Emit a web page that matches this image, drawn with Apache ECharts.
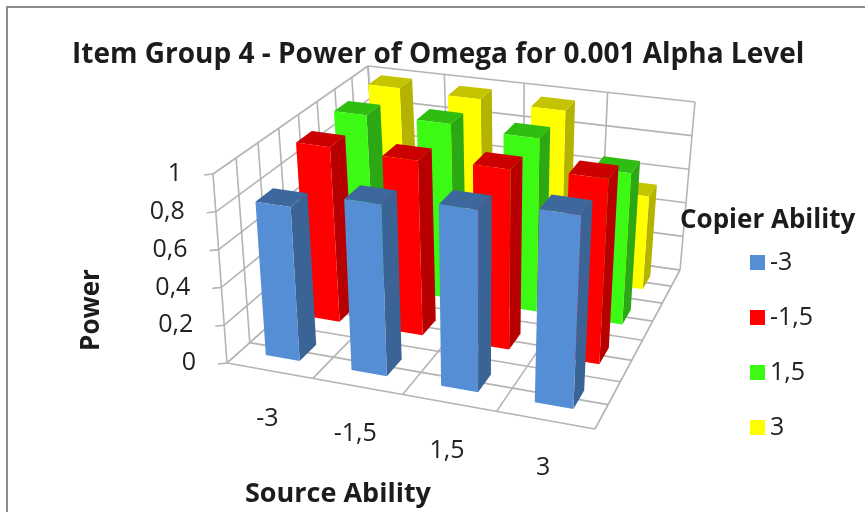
<!DOCTYPE html>
<html><head><meta charset="utf-8">
<style>html,body{margin:0;padding:0;background:#fff}#c{width:865px;height:512px;filter:blur(0.5px)}</style>
<script src="https://cdn.jsdelivr.net/npm/echarts@6/dist/echarts.min.js"></script>
</head><body><div id="c"></div>
<script>
const titleText = 'Item Group 4 - Power of Omega for 0.001 Alpha Level';
const sourceAbility = ['-3', '-1,5', '1,5', '3'];
const copierAbility = ['-3', '-1,5', '1,5', '3'];
const valueTicks = [0, 0.2, 0.4, 0.6, 0.8, 1];
const tickLabels = ['0', '0,2', '0,4', '0,6', '0,8', '1'];
const copierMinus3 = [0.82, 0.905, 0.95, 1.0];
const copierMinus15 = [0.97, 0.96, 0.98, 1.0];
const copierPlus15 = [0.99, 1.0, 0.98, 0.85];
const copierPlus3 = [1.0, 0.99, 0.98, 0.54];
const seriesValues = [copierMinus3, copierMinus15, copierPlus15, copierPlus3];
const faceColors = ['#558ed5', '#ff0000', '#3cfa14', '#ffff00'];
const sideColors = ['#3a6396', '#b80000', '#2ca814', '#b4b400'];
const topColors = ['#3d689e', '#cc0000', '#30bd12', '#c4c400'];

const W = 865, H = 512;
const font = '"Open Sans", sans-serif';
// projection frame of the 3D box: floor and top-plane corners (front-left, front-right, back-right, back-left)
const floorQuad = [[227,363],[595,429],[680,270],[378,228]];
const topQuad = [[213,174],[605,232],[695,102],[368,66]];
function squareToQuad(q){
  const [[x0,y0],[x1,y1],[x2,y2],[x3,y3]] = q;
  const dx1=x1-x2, dx2=x3-x2, dy1=y1-y2, dy2=y3-y2, sx=x0-x1+x2-x3, sy=y0-y1+y2-y3;
  const den=dx1*dy2-dx2*dy1;
  const g=(sx*dy2-dx2*sy)/den, h=(dx1*sy-sx*dy1)/den;
  const a=x1-x0+g*x1, b=x3-x0+h*x3, d=y1-y0+g*y1, e=y3-y0+h*y3;
  return (u,v)=>{const w=g*u+h*v+1;return [(a*u+b*v+x0)/w,(d*u+e*v+y0)/w];};
}
const floorMap = squareToQuad(floorQuad), topMap = squareToQuad(topQuad);
function project(u,v,z){
  const f=floorMap(u,v), t=topMap(u,v);
  return [f[0]+(t[0]-f[0])*z, f[1]+(t[1]-f[1])*z];
}
const gridStroke = {stroke:'#b4b4b4', lineWidth:1.6};
function seg(a,b){return {type:'line',shape:{x1:a[0],y1:a[1],x2:b[0],y2:b[1]},style:gridStroke,silent:true};}
function txt(s,p,align){return {type:'text',x:p[0],y:p[1],silent:true,style:{text:s,fill:'#222',font:'25px '+font,textAlign:align,textVerticalAlign:'middle'}};}

function renderFrame(params, api){
  const kids=[];
  valueTicks.forEach((t,k)=>{
    const z = 1 - api.coord([0,t])[1]/H;
    kids.push(seg(project(0,0,z),project(0,1,z)));
    kids.push(seg(project(0,1,z),project(1,1,z)));
    const e=project(0,0,z);
    kids.push(seg([e[0]-9,e[1]+1],e));
    kids.push(txt(tickLabels[k],[e[0]-31,e[1]],'right'));
  });
  for(let k=0;k<=8;k++){
    const v=k/8;
    kids.push(seg(project(0,v,0),project(0,v,1)));
    kids.push(seg(project(0,v,0),project(1,v,0)));
  }
  for(let k=0;k<=4;k++){
    const u=k/4;
    kids.push(seg(project(u,0,0),project(u,1,0)));
    kids.push(seg(project(u,1,0),project(u,1,1)));
  }
  sourceAbility.forEach((c,i)=>{
    const u=api.coord([i,0])[0]/W, p=project(u,0,0);
    kids.push(txt(c,[p[0]-2,p[1]+48],'center'));
  });
  return {type:'group',children:kids};
}
function makeRenderBar(j){
  return function(params, api){
    const i=api.value(0), val=api.value(1);
    const c=api.coord([i,val]);
    const band=api.size([1,0])[0]/W;
    const u=c[0]/W, z=1-c[1]/H, v=(j+0.5)/copierAbility.length, hu=band*0.2, hv=0.05;
    const fl=project(u-hu,v-hv,0), fr=project(u+hu,v-hv,0), br=project(u+hu,v+hv,0);
    const tfl=project(u-hu,v-hv,z), tfr=project(u+hu,v-hv,z), tbr=project(u+hu,v+hv,z), tbl=project(u-hu,v+hv,z);
    return {type:'group',children:[
      {type:'polygon',shape:{points:[tfr,fr,br,tbr]},style:{fill:sideColors[j]}},
      {type:'polygon',shape:{points:[tfl,tfr,tbr,tbl]},style:{fill:topColors[j]}},
      {type:'polygon',shape:{points:[fl,fr,tfr,tfl]},style:{fill:faceColors[j]}}
    ]};
  };
}
const series = copierAbility.map((name,j)=>({
  type:'custom', name, z:10-j, clip:false,
  coordinateSystem:'cartesian2d',
  itemStyle:{color:faceColors[j]},
  encode:{x:0,y:1},
  data:seriesValues[j].map((val,i)=>[i,val]),
  renderItem:makeRenderBar(j)
}));
series.push({type:'custom',name:'frame',z:1,silent:true,clip:false,coordinateSystem:'cartesian2d',
  encode:{x:0,y:1},data:[[0,0]],renderItem:renderFrame});

const chart = echarts.init(document.getElementById('c'),null,{renderer:'canvas'});
chart.setOption({
  animation:false,
  backgroundColor:'#ffffff',
  grid:{left:0,top:0,width:W,height:H,containLabel:false},
  xAxis:{type:'category',data:sourceAbility,show:false},
  yAxis:{type:'value',min:0,max:1,interval:0.2,show:false},
  title:[
    {text:titleText,left:67,top:36,textStyle:{fontFamily:font,fontWeight:'bold',fontSize:28,color:'#1c1c1c'}},
    {text:'Copier Ability',left:675,top:203,textStyle:{fontFamily:font,fontWeight:'bold',fontSize:26,color:'#1c1c1c'}},
    {text:'Source Ability',left:240,top:476,textStyle:{fontFamily:font,fontWeight:'bold',fontSize:27,color:'#1c1c1c'}}
  ],
  legend:{data:copierAbility,orient:'vertical',left:745,top:245,itemWidth:15,itemHeight:15,itemGap:30,icon:'rect',
    selectedMode:false,textStyle:{fontFamily:font,fontSize:25,lineHeight:21,color:'#222'}},
  graphic:[
    {type:'rect',shape:{x:7,y:7,width:900,height:600},style:{fill:'none',stroke:'#8c8c8c',lineWidth:2},silent:true,z:0},
    {type:'text',x:92,y:310,rotation:Math.PI/2,silent:true,style:{text:'Power',fill:'#1c1c1c',font:'bold 26px '+font,textAlign:'center',textVerticalAlign:'middle'}}
  ],
  series
});
</script></body></html>
